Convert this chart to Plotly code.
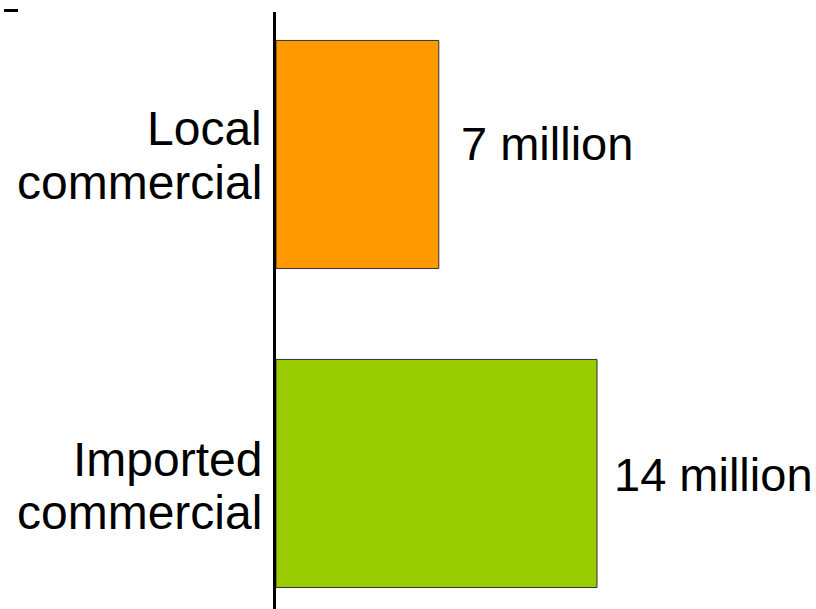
import plotly.graph_objects as go

categories = ["Imported commercial", "Local commercial"]
values = [14, 7.1]
value_labels = ["14 million", "7 million"]
label_lines = [["Imported", "commercial"], ["Local", "commercial"]]
colors = ["#99CC00", "#FF9900"]

FONT = "Liberation Sans, Arial, sans-serif"

fig = go.Figure()
fig.add_trace(go.Bar(
    y=categories, x=values, orientation="h",
    marker=dict(color=colors, line=dict(color="#333333", width=1)),
    width=0.715, hoverinfo="skip", showlegend=False,
))

# category label line offsets (pixels, up positive) and value label offsets
line_shifts = [[14, -39], [26, -28]]
value_yshift = [-1, 11]
value_xshift = [15, 20]

annotations = []
for cat, lines, shifts in zip(categories, label_lines, line_shifts):
    for txt, ys in zip(lines, shifts):
        annotations.append(dict(
            x=0, y=cat, xref="x", yref="y", text=txt, showarrow=False,
            xanchor="right", yanchor="middle", xshift=-12, yshift=ys,
            font=dict(family=FONT, size=48, color="black"),
        ))
for cat, v, lab, ys, xs in zip(categories, values, value_labels, value_yshift, value_xshift):
    annotations.append(dict(
        x=v, y=cat, xref="x", yref="y", text=lab, showarrow=False,
        xanchor="left", yanchor="middle", xshift=xs, yshift=ys,
        font=dict(family=FONT, size=47, color="black"),
    ))

fig.update_layout(
    width=816, height=609,
    margin=dict(l=276, r=0, t=12, b=0),
    paper_bgcolor="white", plot_bgcolor="white",
    annotations=annotations,
    shapes=[dict(type="line", xref="paper", yref="paper",
                 x0=-272 / 540, x1=-258 / 540, y0=(609 - 10.5) / 597, y1=(609 - 10.5) / 597,
                 line=dict(color="black", width=3))],
    xaxis=dict(range=[0, 540 * 14 / 321], visible=False, fixedrange=True),
    yaxis=dict(
        type="category", categoryorder="array", categoryarray=categories,
        range=[-0.4248, 1.4467], showticklabels=False, showgrid=False,
        zeroline=False, showline=True, linecolor="black", linewidth=3,
        ticks="",
    ),
)

fig.write_html("out.html")
